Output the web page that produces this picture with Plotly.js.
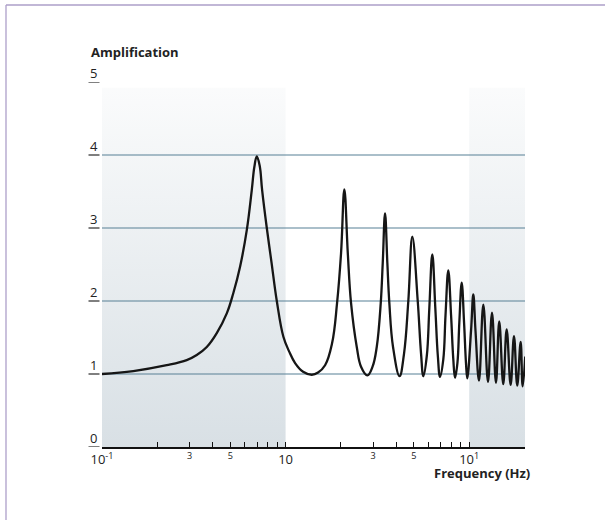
<!DOCTYPE html>
<html>
<head>
<meta charset="utf-8">
<script src="https://cdn.plot.ly/plotly-3.0.1.min.js"></script>
<style>html,body{margin:0;padding:0;background:#fff;}#chart{width:605px;height:520px;}</style>
</head>
<body>
<div id="chart"></div>
<script>
// ---- data ----
const freqHz = [
  0.1, 0.1481, 0.2252, 0.2893, 0.3281, 0.3721, 0.4218, 0.4782, 0.5194, 0.5649,
  0.6146, 0.6543, 0.6761, 0.6967, 0.7218, 0.7451, 0.79, 0.839, 0.8956, 0.9728,
  1.0449, 1.1265, 1.2453, 1.3888, 1.5025, 1.6408, 1.791, 1.9067, 2.0053, 2.0896,
  2.1813, 2.2729, 2.4416, 2.5764, 2.788, 2.9758, 3.1366, 3.2979, 3.3818, 3.4806,
  3.5828, 3.6741, 3.8475, 4.1743, 4.417, 4.661, 4.901, 5.245, 5.468, 5.627,
  5.877, 6.065, 6.297, 6.540, 6.748, 6.936, 7.228, 7.430, 7.694, 7.969,
  8.194, 8.372, 8.627, 8.835, 9.104, 9.380, 9.607, 9.766, 10.24, 10.53,
  10.82, 11.31, 11.94, 12.66, 13.31, 13.99, 14.58, 15.33, 16.00, 16.82,
  17.54, 18.27, 19.07, 19.55, 20.2
];
const amplification = [
  1.00, 1.04, 1.12, 1.19, 1.26, 1.37, 1.56, 1.83, 2.11, 2.47,
  2.97, 3.52, 3.84, 3.98, 3.86, 3.52, 3.00, 2.52, 2.00, 1.51,
  1.31, 1.15, 1.03, 0.99, 1.02, 1.12, 1.42, 1.97, 2.66, 3.53,
  2.66, 1.97, 1.37, 1.10, 0.98, 1.10, 1.37, 1.97, 2.52, 3.20,
  2.52, 1.97, 1.37, 0.97, 1.28, 2.00, 2.88, 2.00, 1.28, 0.97,
  1.25, 1.90, 2.64, 1.90, 1.25, 0.96, 1.20, 1.80, 2.42, 1.80,
  1.20, 0.95, 1.15, 1.70, 2.25, 1.70, 1.15, 0.94, 1.60, 2.09,
  1.60, 0.91, 1.95, 0.89, 1.84, 0.88, 1.72, 0.86, 1.61, 0.85,
  1.52, 0.84, 1.44, 0.83, 1.24
];
const yTickVals = [0, 1, 2, 3, 4, 5];
const yTickText = ['0', '1', '2', '3', '4', '5'];
const xTickVals = [0.1, 0.2, 0.3, 0.4, 0.5, 0.6, 0.7, 0.8, 0.9, 1,
                   2, 3, 4, 5, 6, 7, 8, 9, 10];
const xTickText = ['10<sup>-1</sup>', '', '<sup>3</sup>', '', '<sup>5</sup>', '', '', '', '', '10',
                   '', '<sup>3</sup>', '', '<sup>5</sup>', '', '', '', '', '10<sup>1</sup>'];
const bandLow = [0.1, 10];
const bandHigh = [1, 20.3];
const bandTop = 4.92;

// ---- build ----
const traces = [];
bandLow.forEach((lo, i) => {
  const hi = bandHigh[i];
  traces.push({
    x: [lo, hi, hi, lo, lo],
    y: [0, 0, bandTop, bandTop, 0],
    mode: 'none',
    fill: 'toself',
    fillgradient: {
      type: 'vertical',
      start: 0,
      stop: bandTop,
      colorscale: [[0, 'rgba(100,130,150,0.25)'], [1, 'rgba(100,130,150,0.03)']]
    },
    hoverinfo: 'skip',
    showlegend: false
  });
});
traces.push({
  x: freqHz,
  y: amplification,
  mode: 'lines',
  line: {color: '#161616', width: 2.3, shape: 'spline', smoothing: 1.15},
  showlegend: false,
  hoverinfo: 'skip'
});

const W = 423; // plot width px
const H = 365; // plot height px
const px2paperX = p => (p - 102) / W;
const px2paperY = p => (447 - p) / H;

const shapes = yTickVals.map(v => ({
  type: 'line', xref: 'paper', yref: 'y',
  x0: px2paperX(88.5), x1: px2paperX(99.5), y0: v, y1: v,
  line: {color: '#2a2a2a', width: 1.2}
}));
// frame lines (top and left)
shapes.push({type: 'line', xref: 'paper', yref: 'paper',
  x0: px2paperX(6), x1: px2paperX(610), y0: px2paperY(5), y1: px2paperY(5),
  line: {color: '#ad9fc9', width: 1.3}});
shapes.push({type: 'line', xref: 'paper', yref: 'paper',
  x0: px2paperX(6), x1: px2paperX(6), y0: px2paperY(5), y1: px2paperY(525),
  line: {color: '#ad9fc9', width: 1.3}});

const annotations = yTickVals.map((v, i) => ({
  xref: 'paper', yref: 'y', x: px2paperX(93.5), y: v,
  xanchor: 'center', yanchor: 'bottom', yshift: -2,
  text: yTickText[i], showarrow: false,
  font: {family: 'Open Sans, sans-serif', size: 13, color: '#222'}
}));
annotations.push({
  xref: 'paper', yref: 'paper', x: px2paperX(89), y: px2paperY(52),
  xanchor: 'left', yanchor: 'middle', text: '<b>Amplification</b>', showarrow: false,
  font: {family: 'Open Sans, sans-serif', size: 13, color: '#222'}
});
annotations.push({
  xref: 'paper', yref: 'paper', x: px2paperX(532), y: px2paperY(473),
  xanchor: 'right', yanchor: 'middle', text: '<b>Frequency (Hz)</b>', showarrow: false,
  font: {family: 'Open Sans, sans-serif', size: 13, color: '#222'}
});

const layout = {
  width: 605, height: 520,
  margin: {l: 102, r: 80, t: 82, b: 73, pad: 0},
  paper_bgcolor: '#ffffff', plot_bgcolor: '#ffffff',
  showlegend: false,
  font: {family: 'Open Sans, sans-serif', color: '#222'},
  xaxis: {
    type: 'log', range: [-1, 1.304],
    tickmode: 'array', tickvals: xTickVals, ticktext: xTickText,
    ticks: 'inside', ticklen: 5, tickwidth: 1, tickcolor: '#111',
    showgrid: false, zeroline: false,
    showline: true, linecolor: '#111', linewidth: 1.5,
    tickfont: {family: 'Open Sans, sans-serif', size: 13, color: '#222'},
    fixedrange: true
  },
  yaxis: {
    range: [0, 5], tickmode: 'array', tickvals: yTickVals,
    showticklabels: false, ticks: '',
    showgrid: true, gridcolor: '#aabfca', gridwidth: 1.3,
    zeroline: false, showline: false, fixedrange: true
  },
  shapes: shapes,
  annotations: annotations
};

Plotly.newPlot('chart', traces, layout, {displayModeBar: false, staticPlot: true});
</script>
</body>
</html>
